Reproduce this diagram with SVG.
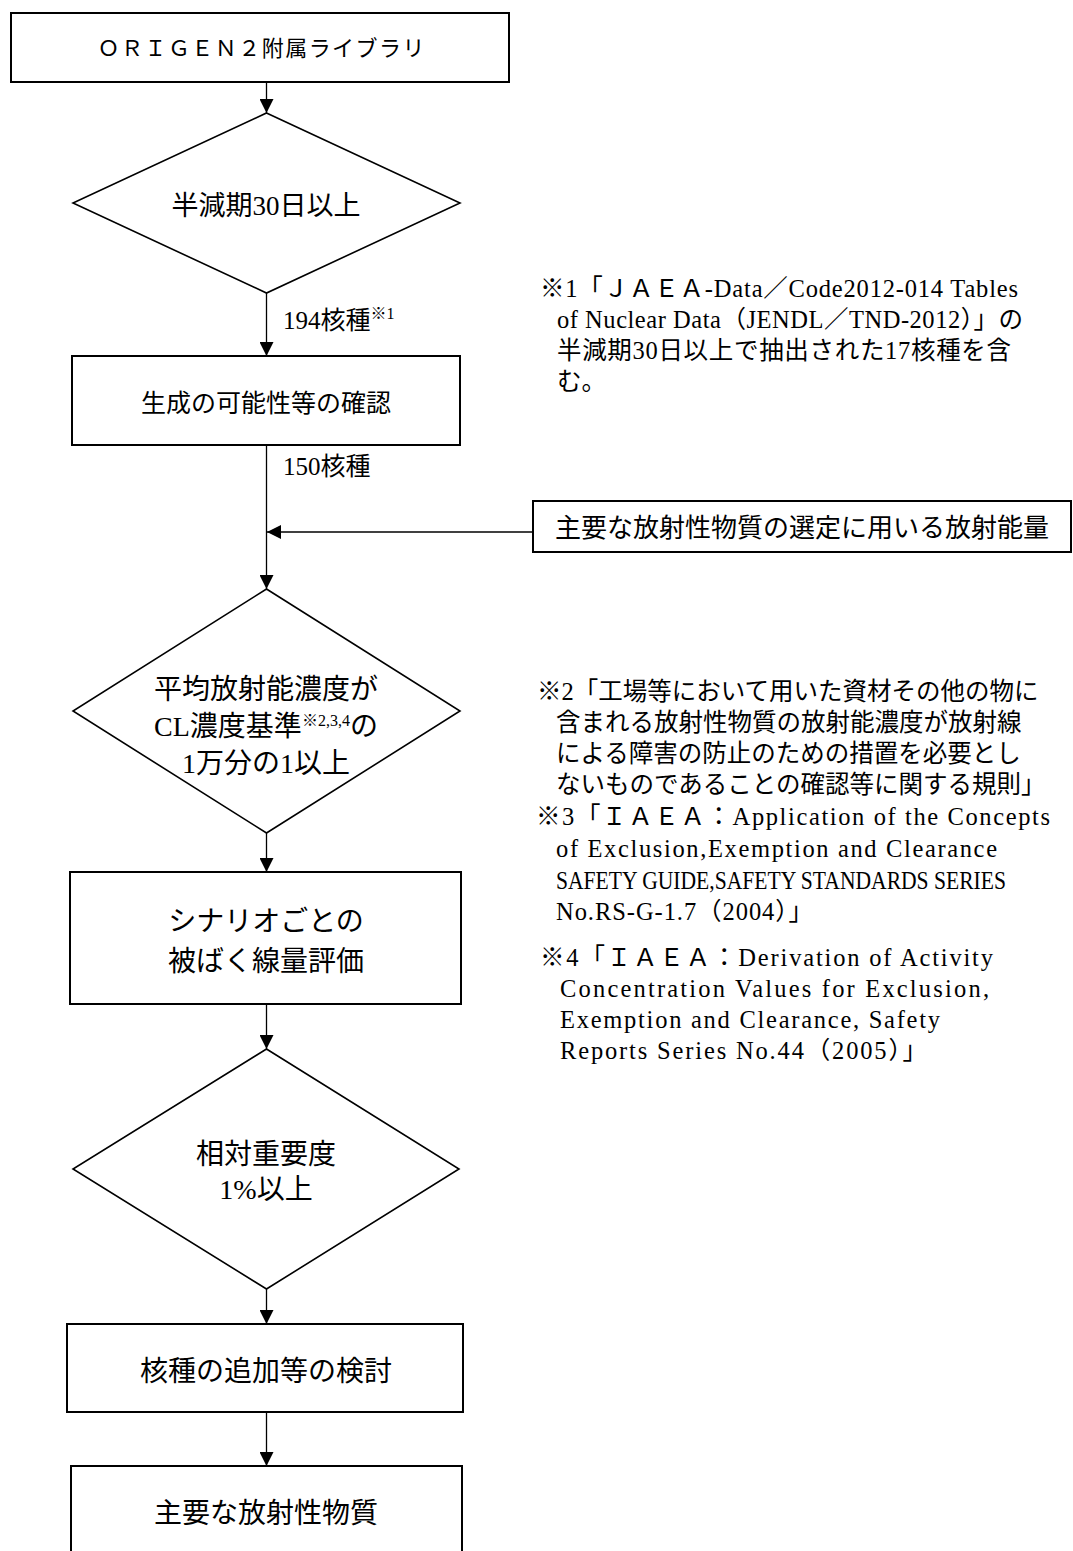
<svg xmlns="http://www.w3.org/2000/svg" width="1073" height="1551" viewBox="0 0 1073 1551">
<style>
text { font-family: "Liberation Serif", "Noto Sans CJK JP", serif; fill: #000; }
.box { fill: #fff; stroke: #000; stroke-width: 2; }
.dia { fill: #fff; stroke: #000; stroke-width: 1.6; }
.conn { fill: none; stroke: #000; stroke-width: 1.3; marker-end: url(#ah); }
.n { font-size: 28px; text-anchor: middle; }
.lbl { font-size: 25px; }
.note { font-size: 24.5px; }
.sup { font-size: 16px; }
</style>
<defs>
<marker id="ah" markerUnits="userSpaceOnUse" markerWidth="14" markerHeight="14" refX="14" refY="7" orient="auto">
<path d="M0,0 L14,7 L0,14 z" fill="#000"/>
</marker>
</defs>
<rect width="1073" height="1551" fill="#fff"/>

<g id="connectors">
<path class="conn" d="M266.5,82 V113"/>
<path class="conn" d="M266.5,293 V356"/>
<path class="conn" d="M266.5,445 V589"/>
<path class="conn" d="M533,532 H267"/>
<path class="conn" d="M266.5,833 V872"/>
<path class="conn" d="M266.5,1004 V1049"/>
<path class="conn" d="M266.5,1289 V1324"/>
<path class="conn" d="M266.5,1412 V1466"/>
<text class="lbl" x="283" y="329">194核種<tspan class="sup" dy="-10">※1</tspan></text>
<text class="lbl" x="283" y="475">150核種</text>
</g>

<g id="origen">
<rect class="box" x="11" y="13" width="498" height="69"/>
<text x="261" y="56" font-size="22" text-anchor="middle" textLength="327" lengthAdjust="spacing">ＯＲＩＧＥＮ２附属ライブラリ</text>
</g>

<g id="halflife">
<polygon class="dia" points="266.5,113 460,203 266.5,293 73,203"/>
<text x="266" y="215" font-size="27" text-anchor="middle">半減期30日以上</text>
</g>

<g id="generation">
<rect class="box" x="72" y="356" width="388" height="89"/>
<text x="266" y="412" font-size="25" text-anchor="middle">生成の可能性等の確認</text>
</g>

<g id="activity">
<rect class="box" x="533" y="501" width="538" height="51"/>
<text x="802" y="537" font-size="26" text-anchor="middle">主要な放射性物質の選定に用いる放射能量</text>
</g>

<g id="clratio">
<polygon class="dia" points="266.5,589 460,711 266.5,833 73,711"/>
<text class="n" x="266" y="699">平均放射能濃度が</text>
<text class="n" x="266" y="736">CL濃度基準<tspan class="sup" dy="-10">※2,3,4</tspan><tspan dy="10">の</tspan></text>
<text class="n" x="266" y="773">1万分の1以上</text>
</g>

<g id="dose">
<rect class="box" x="70" y="872" width="391" height="132"/>
<text class="n" x="266" y="931">シナリオごとの</text>
<text class="n" x="266" y="971">被ばく線量評価</text>
</g>

<g id="importance">
<polygon class="dia" points="266.5,1049 459,1169 266.5,1289 73,1169"/>
<text class="n" x="266" y="1164">相対重要度</text>
<text class="n" x="266" y="1199">1%以上</text>
</g>

<g id="addition">
<rect class="box" x="67" y="1324" width="396" height="88"/>
<text class="n" x="266" y="1381">核種の追加等の検討</text>
</g>

<g id="result">
<rect class="box" x="71" y="1466" width="391" height="110"/>
<text class="n" x="266" y="1523">主要な放射性物質</text>
</g>

<g id="note1">
<text class="note" x="540" y="297" textLength="478" lengthAdjust="spacing">※1「ＪＡＥＡ-Data／Code2012-014 Tables</text>
<text class="note" x="557" y="328" textLength="466" lengthAdjust="spacing">of Nuclear Data（JENDL／TND-2012）」の</text>
<text class="note" x="557" y="359" textLength="454" lengthAdjust="spacing">半減期30日以上で抽出された17核種を含</text>
<text class="note" x="557" y="390">む。</text>
</g>

<g id="note2">
<text class="note" x="537" y="700">※2「工場等において用いた資材その他の物に</text>
<text class="note" x="556" y="731">含まれる放射性物質の放射能濃度が放射線</text>
<text class="note" x="556" y="762">による障害の防止のための措置を必要とし</text>
<text class="note" x="556" y="793">ないものであることの確認等に関する規則」</text>
</g>

<g id="note3">
<text class="note" x="536" y="825" textLength="514" lengthAdjust="spacing">※3「ＩＡＥＡ：Application of the Concepts</text>
<text class="note" x="556" y="857" textLength="441" lengthAdjust="spacing">of Exclusion,Exemption and Clearance</text>
<text class="note" x="556" y="889" textLength="450" lengthAdjust="spacingAndGlyphs">SAFETY GUIDE,SAFETY STANDARDS SERIES</text>
<text class="note" x="556" y="920" textLength="257" lengthAdjust="spacing">No.RS-G-1.7（2004）」</text>
</g>

<g id="note4">
<text class="note" x="540" y="966" textLength="453" lengthAdjust="spacing">※4「ＩＡＥＡ：Derivation of Activity</text>
<text class="note" x="560" y="997" textLength="429" lengthAdjust="spacing">Concentration Values for Exclusion,</text>
<text class="note" x="560" y="1028" textLength="380" lengthAdjust="spacing">Exemption and Clearance, Safety</text>
<text class="note" x="560" y="1059" textLength="367" lengthAdjust="spacing">Reports Series No.44（2005）」</text>
</g>
</svg>
